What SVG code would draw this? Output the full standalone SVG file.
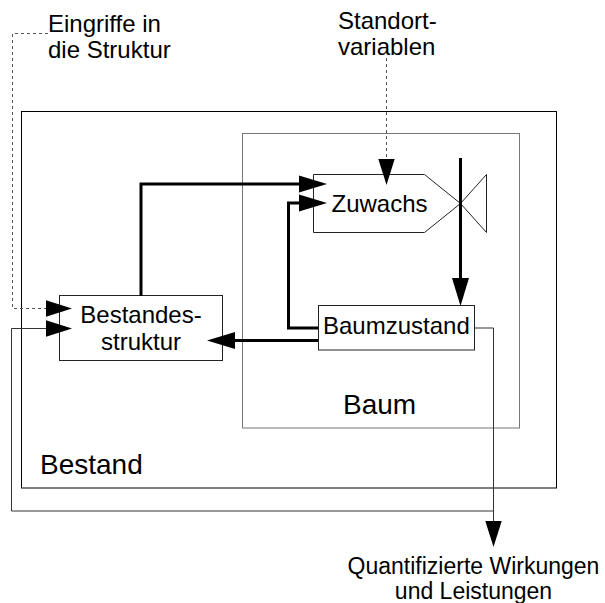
<svg xmlns="http://www.w3.org/2000/svg" width="605" height="603" viewBox="0 0 605 603">
<style>
  text { font-family: "Liberation Sans", Arial, sans-serif; font-size: 24px; fill: #000; }
  .big { font-size: 28px; }
  .out { font-size: 23px; }
  .box { fill: #fff; stroke: #222; stroke-width: 1; }
  .frame { fill: none; stroke: #000; stroke-width: 1; }
  .thick { fill: none; stroke: #000; stroke-width: 3; }
  .thin { fill: none; stroke: #333; stroke-width: 1; }
  .dash { fill: none; stroke: #555; stroke-width: 1; stroke-dasharray: 3 3; }
</style>
<defs>
  <marker id="ahThick" markerUnits="userSpaceOnUse" markerWidth="29" markerHeight="18" refX="0" refY="9" orient="auto">
    <path d="M0,0.5 L28,9 L0,17.5 z" fill="#000"/>
  </marker>
  <marker id="ahThin" markerUnits="userSpaceOnUse" markerWidth="27" markerHeight="18" refX="0" refY="9" orient="auto">
    <path d="M0,0.8 L26,9 L0,17.2 z" fill="#000"/>
  </marker>
</defs>
<rect width="605" height="603" fill="#fff"/>

<g id="bestand">
  <rect class="frame" x="21.5" y="111.5" width="535" height="376.5"/>
  <text class="big" x="40" y="473.5">Bestand</text>
</g>
<g id="baum">
  <rect x="242.5" y="133.5" width="277" height="294.5" fill="none" stroke="#777" stroke-width="1"/>
  <text class="big" x="343" y="413.5">Baum</text>
</g>
<g id="zuwachs">
  <polygon class="box" points="313.5,174.5 424.5,174.5 460.5,203.5 424.5,232.5 313.5,232.5"/>
  <polygon class="box" points="460.5,203.5 486.5,174.5 486.5,232.5"/>
  <text x="331.5" y="211.5">Zuwachs</text>
</g>
<g id="baumzustand">
  <rect class="box" x="318.5" y="305.5" width="156" height="44.5"/>
  <text x="323" y="334">Baumzustand</text>
</g>
<g id="bestandesstruktur">
  <rect class="box" x="59.5" y="295.5" width="163" height="65"/>
  <text x="141" y="322.5" text-anchor="middle">Bestandes-</text>
  <text x="141" y="350" text-anchor="middle">struktur</text>
</g>
<g id="eingriffe">
  <text x="48" y="31.5">Eingriffe in</text>
  <text x="48" y="57.5">die Struktur</text>
</g>
<g id="standort">
  <text x="338" y="28.5">Standort-</text>
  <text x="338" y="55">variablen</text>
</g>
<g id="wirkungen">
  <text class="out" x="473.5" y="573.5" text-anchor="middle">Quantifizierte Wirkungen</text>
  <text class="out" x="473.5" y="598.5" text-anchor="middle">und Leistungen</text>
</g>

<g id="connectors">
  <path class="thick" d="M460.5,158 V278" marker-end="url(#ahThick)"/>
  <path class="thick" d="M318,340.5 H235" marker-end="url(#ahThick)"/>
  <path class="thick" d="M141,296 V184 H299" marker-end="url(#ahThick)"/>
  <path class="thick" d="M318,328 H288.5 V203 H299" marker-end="url(#ahThick)"/>
  <path class="dash" d="M48,33.5 H12.5 V308.5 H46" marker-end="url(#ahThin)"/>
  <path class="dash" d="M386.5,58 V159" marker-end="url(#ahThin)"/>
  <path class="thin" d="M474.5,328 H493.5 V521" marker-end="url(#ahThin)"/>
  <path class="thin" d="M493.5,511 H11.5 V328.5 H46" marker-end="url(#ahThin)"/>
</g>
</svg>
